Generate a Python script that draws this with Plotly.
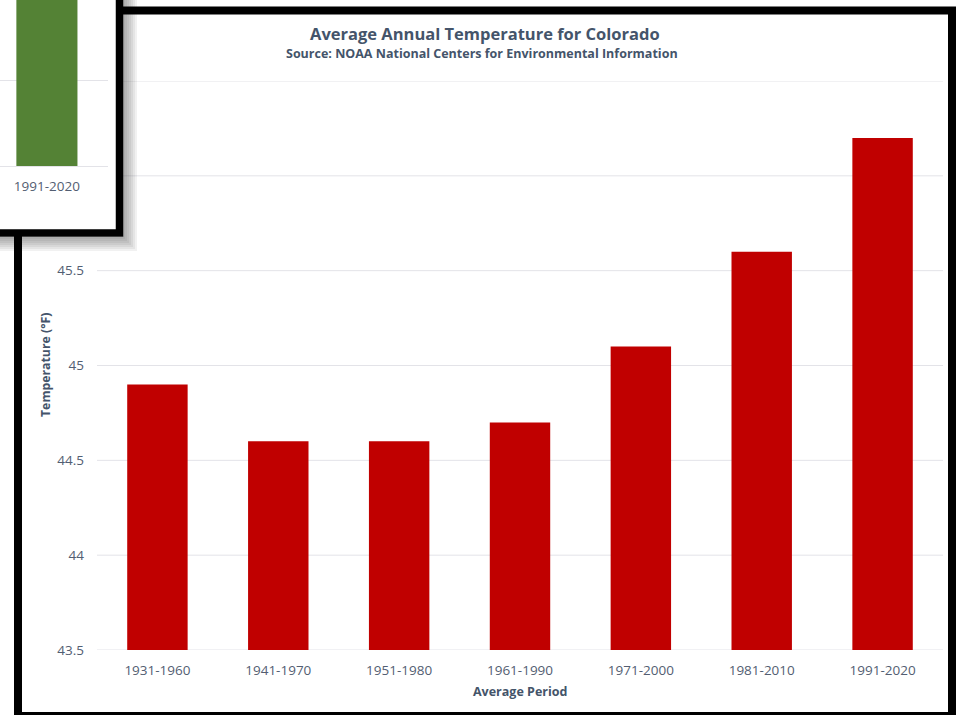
import plotly.graph_objects as go

# ---------------- data ----------------
periods = ["1931-1960", "1941-1970", "1951-1980", "1961-1990", "1971-2000", "1981-2010", "1991-2020"]
avg_temp_f = [44.9, 44.6, 44.6, 44.7, 45.1, 45.6, 46.2]
y_grid_vals = [43.5, 44, 44.5, 45, 45.5, 46, 46.5]
y_label_vals = [43.5, 44, 44.5, 45, 45.5]          # the upper labels are hidden under the inset
y_label_text = ["43.5", "44", "44.5", "45", "45.5"]

# partially visible chart behind (top-left inset)
inset_periods = ["1991-2020"]
inset_values = [2.4]
inset_grid_vals = [0, 1]

title_text = "Average Annual Temperature for Colorado"
subtitle_text = "Source: NOAA National Centers for Environmental Information"
x_title = "Average Period"
y_title = "Temperature (°F)"

# ---------------- style ----------------
W, H = 958, 715
FONT = "Open Sans"
TXT = "#44546A"
TICK = "#535e72"
GRID = "#e3e3e8"
RED = "#C00000"
GREEN = "#548235"


def X(px):
    return px / W


def Y(py):
    return 1 - py / H


fig = go.Figure()

fig.add_trace(go.Bar(
    x=periods, y=avg_temp_f, marker=dict(color=RED, line=dict(width=0)),
    xaxis="x", yaxis="y", hoverinfo="skip", showlegend=False,
))
fig.add_trace(go.Bar(
    x=inset_periods, y=inset_values, marker=dict(color=GREEN, line=dict(width=0)),
    xaxis="x2", yaxis="y2", hoverinfo="skip", showlegend=False,
))

shapes = []
# main gridlines (drawn in the lower layer so the inset can cover them)
for v in y_grid_vals:
    shapes.append(dict(type="line", xref="paper", yref="y", layer="below",
                       x0=X(97), x1=X(943), y0=v, y1=v,
                       line=dict(color=GRID, width=1)))
# inset white card (covers the main chart underneath it)
shapes.append(dict(type="rect", xref="paper", yref="paper", layer="below",
                   x0=X(-20), x1=X(119), y0=Y(232), y1=Y(-20),
                   fillcolor="white", line=dict(width=0)))

# inset drop shadow (L-shaped strips outside the card)
for i in range(1, 8):
    s = 2 * i
    shapes.append(dict(type="path", xref="paper", yref="paper", layer="above",
                       path=(f"M {X(123)},{Y(-20)} L {X(123 + s)},{Y(-20)} "
                             f"L {X(123 + s)},{Y(237 + s)} L {X(-20)},{Y(237 + s)} "
                             f"L {X(-20)},{Y(237)} L {X(123)},{Y(237)} Z"),
                       fillcolor="rgba(60,60,60,0.07)", line=dict(width=0)))

# main frame
shapes.append(dict(type="path", xref="paper", yref="paper", layer="above",
                   path=f"M {X(123)},{Y(10.5)} L {X(952)},{Y(10.5)} L {X(952)},{Y(716)} "
                        f"L {X(18)},{Y(716)} L {X(18)},{Y(236)}",
                   line=dict(color="black", width=8)))
# inset border
shapes.append(dict(type="path", xref="paper", yref="paper", layer="above",
                   path=f"M {X(119.5)},{Y(-10)} L {X(119.5)},{Y(233)} L {X(-10)},{Y(233)}",
                   line=dict(color="black", width=7.5)))

annotations = [
    dict(text=f"<b>{title_text}</b>", x=X(485), y=Y(33), xref="paper", yref="paper",
         showarrow=False, xanchor="center", yanchor="middle",
         font=dict(family=FONT, size=16.5, color=TXT)),
    dict(text=f"<b>{subtitle_text}</b>", x=X(482), y=Y(54), xref="paper", yref="paper",
         showarrow=False, xanchor="center", yanchor="middle",
         font=dict(family=FONT, size=12.5, color=TXT)),
    dict(text=f"<b>{x_title}</b>", x=X(520), y=Y(691), xref="paper", yref="paper",
         showarrow=False, xanchor="center", yanchor="middle",
         font=dict(family=FONT, size=12.5, color=TXT)),
    dict(text=f"<b>{y_title}</b>", x=X(45), y=Y(365), xref="paper", yref="paper",
         showarrow=False, xanchor="center", yanchor="middle", textangle=-90,
         font=dict(family=FONT, size=12.3, color=TXT)),
]

fig.update_layout(
    width=W, height=H, autosize=False,
    margin=dict(l=0, r=0, t=0, b=0, pad=0, autoexpand=False),
    paper_bgcolor="white", plot_bgcolor="rgba(0,0,0,0)",
    bargap=0.5, hovermode=False, showlegend=False,
    font=dict(family=FONT, size=13.5, color=TICK),
    xaxis=dict(domain=[X(97), X(943)], anchor="y", type="category",
               range=[-0.5, 6.5], showgrid=False, showline=False, zeroline=False,
               ticks="", ticklabelstandoff=10, tickfont=dict(family=FONT, size=13.5, color=TICK),
               fixedrange=True, automargin=False),
    yaxis=dict(domain=[Y(650), Y(81)], anchor="x", range=[43.5, 46.5],
               tickvals=y_label_vals, ticktext=y_label_text, showgrid=False,
               showline=False, zeroline=False, ticks="", ticklabelstandoff=12,
               tickfont=dict(family=FONT, size=13.5, color=TICK), fixedrange=True,
               automargin=False),
    xaxis2=dict(domain=[0, X(108)], anchor="y2", type="category",
                range=[-0.384, 0.5], showgrid=False, showline=False, zeroline=False,
                ticks="", ticklabelstandoff=10, tickfont=dict(family=FONT, size=13.5, color=TICK),
                fixedrange=True, automargin=False),
    yaxis2=dict(domain=[Y(166), 1], anchor="x2", range=[0, 166 / 86],
                tickvals=inset_grid_vals, showticklabels=False, showgrid=True,
                gridcolor=GRID, gridwidth=1, zeroline=True, zerolinecolor=GRID,
                zerolinewidth=1, showline=False, ticks="", fixedrange=True,
                automargin=False),
    shapes=shapes,
    annotations=annotations,
)

fig.write_html("out.html",
               config={"displayModeBar": False, "staticPlot": True, "responsive": False},
               post_script="document.body.style.margin='0';document.body.style.overflow='hidden';")
